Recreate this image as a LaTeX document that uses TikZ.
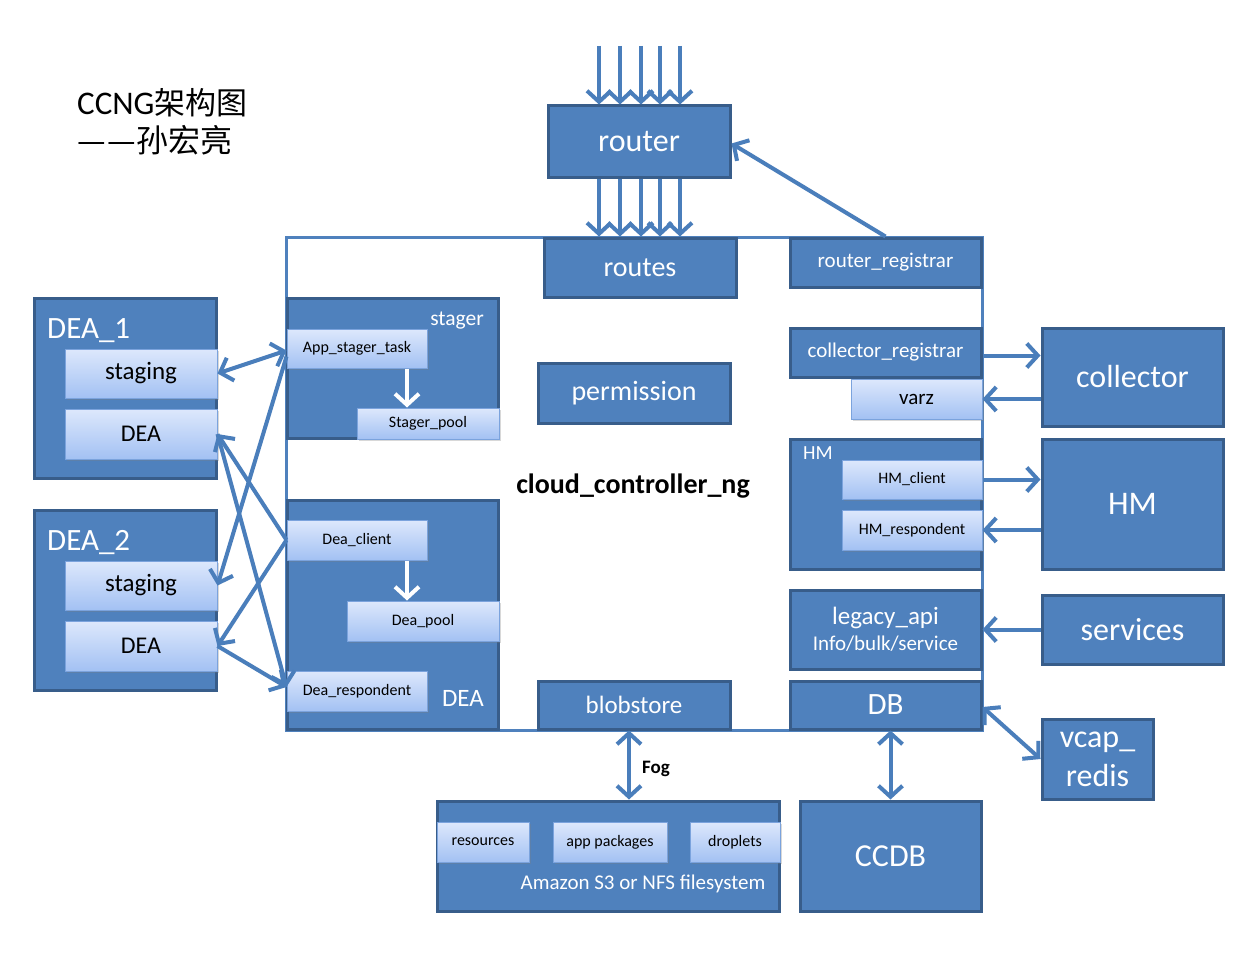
\documentclass[tikz,border=0pt]{standalone}
\usepackage{fontspec}
\setmainfont{Carlito}
\newfontfamily\cjk{Noto Sans CJK SC}
\usetikzlibrary{arrows.meta,shadows}
\definecolor{boxfill}{HTML}{4F81BD}
\definecolor{boxline}{HTML}{385D8A}
\definecolor{arrc}{HTML}{4A7EBB}
\definecolor{gtop}{HTML}{DDE8FC}
\definecolor{gbot}{HTML}{A3C1F3}
\definecolor{gline}{HTML}{7BA3DD}
\newcommand\FS[1]{\fontsize{#1}{#1}\selectfont}
\begin{document}
\begin{tikzpicture}[x=1pt,y=-1pt,
 bbox/.style={draw=boxline, fill=boxfill, line width=3pt, text=white, inner sep=0pt, align=center},
 gbox/.style={draw=gline, line width=1pt, top color=gtop, bottom color=gbot, text=black, inner sep=0pt,
   drop shadow={opacity=0.3, shadow xshift=2pt, shadow yshift=-2pt}},
 tipb/.tip={Straight Barb[length=11pt,width=24pt]},
 arr/.style={draw=arrc, line width=4pt, -tipb},
 dbl/.style={draw=arrc, line width=4pt, tipb-tipb},
 warr/.style={draw=white, line width=4pt, -tipb},
 lbl/.style={text=white, inner sep=0pt}
]
\useasboundingbox[fill=white] (0,0) rectangle (1258,955);

% title
\node[anchor=west, inner sep=0pt, font=\FS{33}] (t1) at (77,103) {CCNG{\cjk\FS{31}架构图}};
\node[anchor=west, inner sep=0pt, font=\FS{32}] (t2) at (77,140) {{\cjk —}\hspace{2pt}{\cjk —孙宏亮}};

% cloud controller frame
\node[draw=boxfill, line width=3pt, minimum width=696pt, minimum height=493pt, inner sep=0pt] (cc) at (634,483.5) {};
\node[font=\FS{28}\bfseries, inner sep=0pt] (ccl) at (633,486) {cloud\_controller\_ng};

% router
\node[bbox, minimum width=182pt, minimum height=71pt, font=\FS{32}] (router) at (639,141.5) {router};
\node[bbox, minimum width=192pt, minimum height=59pt, font=\FS{28}] (routes) at (640,267.5) {routes};
\node[bbox, minimum width=191pt, minimum height=49pt, font=\FS{21}] (rreg) at (885.5,262.5) {router\_registrar};

% stager
\node[bbox, minimum width=211pt, minimum height=140pt] (stager) at (392.5,368) {};
\node[lbl, font=\FS{21.5}, anchor=east] (stagerl) at (484,321) {stager};
\node[gbox, minimum width=140pt, minimum height=39pt, font=\FS{16}] (ast) at (357,348.5) {App\_stager\_task};
\node[gbox, minimum width=142pt, minimum height=31pt, font=\FS{16}] (spool) at (428,423.5) {Stager\_pool};

% permission
\node[bbox, minimum width=192pt, minimum height=60pt, font=\FS{28}] (perm) at (634,393) {permission};

% collector registrar
\node[bbox, minimum width=191pt, minimum height=49pt, font=\FS{21}] (creg) at (885.5,352.5) {collector\_registrar};
\node[gbox, minimum width=131pt, minimum height=40pt, font=\FS{21}] (varz) at (916.5,399) {varz};
\node[bbox, minimum width=181pt, minimum height=98pt, font=\FS{32}] (collector) at (1132.5,377) {collector};

% HM internal
\node[bbox, minimum width=191pt, minimum height=130pt] (hmi) at (885.5,504) {};
\node[lbl, font=\FS{20}, anchor=west] (hmil) at (803,453) {HM};
\node[gbox, minimum width=140pt, minimum height=39pt, font=\FS{16}] (hmc) at (912,479.5) {HM\_client};
\node[gbox, minimum width=140pt, minimum height=40pt, font=\FS{16}] (hmr) at (912,530) {HM\_respondent};
\node[bbox, minimum width=181pt, minimum height=130pt, font=\FS{33}] (hme) at (1132.5,504) {HM};

% legacy api / services
\node[bbox, minimum width=191pt, minimum height=79pt] (legacy) at (885.5,629.5)
  {{\FS{25}legacy\_api}\\[6pt]{\FS{21}Info/bulk/service}};
\node[bbox, minimum width=181pt, minimum height=69pt, font=\FS{32}] (services) at (1132.5,629.5) {services};

% DB / blobstore
\node[bbox, minimum width=191pt, minimum height=48pt, font=\FS{31}] (db) at (885.5,705) {DB};
\node[bbox, minimum width=192pt, minimum height=48pt, font=\FS{25}] (blob) at (634,705) {blobstore};
\node[bbox, minimum width=111pt, minimum height=80pt, font=\FS{32}] (vcap) at (1097.5,759) {vcap\_\\[7pt]redis};
\node[bbox, minimum width=181pt, minimum height=110pt, font=\FS{32}] (ccdb) at (890.5,856) {CCDB};

% amazon
\node[bbox, minimum width=342pt, minimum height=110pt] (amazon) at (608,856) {};
\node[lbl, font=\FS{21}] (amazonl) at (643,884) {Amazon S3 or NFS filesystem};
\node[gbox, minimum width=92pt, minimum height=40pt, font=\FS{16}] (res) at (483,842) {resources};
\node[gbox, minimum width=114pt, minimum height=40pt, font=\FS{16}] (apk) at (610,842) {app packages};
\node[gbox, minimum width=90pt, minimum height=40pt, font=\FS{16}] (drop) at (735,842) {droplets};

% DEA in cc
\node[bbox, minimum width=211pt, minimum height=229pt] (ccdea) at (392.5,614.5) {};
\node[lbl, font=\FS{25}, anchor=east] (ccdeal) at (484,698) {DEA};
\node[gbox, minimum width=140pt, minimum height=40pt, font=\FS{16}] (dcl) at (357,540) {Dea\_client};
\node[gbox, minimum width=152pt, minimum height=40pt, font=\FS{16}] (dpool) at (423,621) {Dea\_pool};
\node[gbox, minimum width=140pt, minimum height=40pt, font=\FS{16}] (dresp) at (357,691) {Dea\_respondent};

% DEA_1 / DEA_2
\node[bbox, minimum width=182pt, minimum height=180pt] (dea1) at (125,388) {};
\node[lbl, font=\FS{31}, anchor=west] (dea1l) at (47,331) {DEA\_1};
\node[gbox, minimum width=152pt, minimum height=49pt, font=\FS{25}] (stg1) at (141,373.5) {staging};
\node[gbox, minimum width=152pt, minimum height=50pt, font=\FS{24}] (d1) at (141,434) {DEA};
\node[bbox, minimum width=182pt, minimum height=180pt] (dea2) at (125,600) {};
\node[lbl, font=\FS{31}, anchor=west] (dea2l) at (47,543) {DEA\_2};
\node[gbox, minimum width=152pt, minimum height=49pt, font=\FS{25}] (stg2) at (141,585.5) {staging};
\node[gbox, minimum width=152pt, minimum height=50pt, font=\FS{24}] (d2) at (141,646) {DEA};

% router arrows
\foreach \i/\x in {1/599,2/620,3/641,4/660,5/680}{
  \coordinate (in\i) at (\x,46);
  \draw[arr] (in\i) -- (in\i |- router.north);
  \draw[arr] (router.south -| in\i) -- (routes.north -| in\i);
}
\draw[arr] (rreg.north) -- ([yshift=-2pt]router.east);

% white internal arrows
\coordinate (w1) at ([xshift=50pt]ast.south);
\draw[warr] (w1) -- (w1 |- spool.north);
\coordinate (w2) at ([xshift=50pt]dcl.south);
\draw[warr] (w2) -- (w2 |- dpool.north);

% right side arrows
\draw[arr] ([yshift=-3pt]creg.east) -- ([yshift=-3pt]collector.west |- creg.east);
\draw[arr] (collector.west |- varz.east) -- (varz.east);
\draw[arr] (hmc.east) -- (hme.west |- hmc.east);
\draw[arr] (hme.west |- hmr.east) -- (hmr.east);
\draw[arr] (services.west) -- (legacy.east);
\draw[dbl] ([yshift=-2pt]db.east) -- (vcap.west);
\coordinate (b1) at ([xshift=-5pt]blob.south);
\draw[dbl] (b1) -- (b1 |- amazon.north);
\node[font=\FS{19}\bfseries, anchor=west, inner sep=0pt] (fog) at (642,769) {Fog};
\draw[dbl] (db.south -| ccdb.north) -- (ccdb.north);

% left side arrows
\draw[dbl] (stg1.east) -- ([yshift=-2pt]ast.west);
\draw[arr] ([yshift=-8pt]ast.west) -- (stg2.east);
\draw[arr] (dcl.west) -- (d1.east);
\draw[arr] (dcl.west) -- (d2.east);
\draw[arr] (d1.east) -- ([yshift=4pt]dresp.west);
\draw[arr] (d2.east) -- ([yshift=4pt]dresp.west);
\end{tikzpicture}
\end{document}
